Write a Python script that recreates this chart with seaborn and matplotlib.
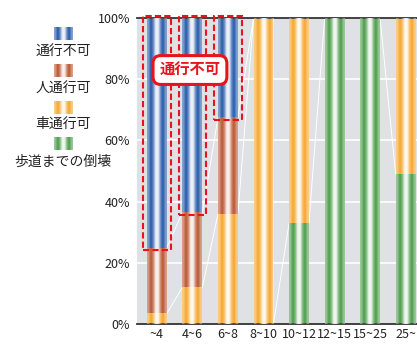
import numpy as np
import pandas as pd
import matplotlib.pyplot as plt
import seaborn as sns
from matplotlib.patches import Rectangle

plt.rcParams['font.family'] = ['Noto Sans CJK JP', 'DejaVu Sans']

# data (percent of buildings per class)
categories = ["~4", "4~6", "6~8", "8~10", "10~12", "12~15", "15~25", "25~"]
collapse = [0, 0, 0, 0, 33, 100, 100, 49]          # 歩道までの倒壊
car_ok = [3.5, 12, 36, 100, 67, 0, 0, 51]          # 車通行可
walk_ok = [21.5, 24.5, 31.5, 0, 0, 0, 0, 0]        # 人通行可
blocked = [75, 63.5, 32.5, 0, 0, 0, 0, 0]          # 通行不可

series_names = ["歩道までの倒壊", "車通行可", "人通行可", "通行不可"]
colors = ["#4c9c4a", "#f6a62c", "#b9552f", "#2459aa"]
series = [collapse, car_ok, walk_ok, blocked]

cum = np.cumsum(np.array(series), axis=0)
bar_w = 0.56

fig = plt.figure(figsize=(4.17, 3.47), dpi=100)
ax = fig.add_axes([137 / 417, 23 / 347, 1 - 137 / 417, (324 - 18) / 347])
ax.set_facecolor("#dfe1e5")

# white profile that gives the bars their striped look
xs = np.linspace(0, 1, 120)
prof = np.interp(xs, [0, 0.07, 0.2, 0.33, 0.42, 0.5, 0.58, 0.67, 0.8, 0.93, 1],
                 [0.45, 0.4, 0.0, 0.35, 0.85, 0.95, 0.85, 0.35, 0.0, 0.4, 0.45])
grad = np.zeros((1, len(xs), 4))
grad[..., :3] = 1
grad[..., 3] = prof

# draw from the top series down so each one covers the next
for k in range(3, -1, -1):
    df = pd.DataFrame({"cat": categories, "val": cum[k]})
    sns.barplot(data=df, x="cat", y="val", order=categories, color=colors[k],
                width=bar_w, saturation=1, ax=ax, zorder=2)

for i in range(len(categories)):
    ax.imshow(grad, extent=(i - bar_w / 2, i + bar_w / 2, 0, 100),
              aspect="auto", interpolation="bilinear", zorder=3)

# white series lines between bars
for k in range(3):
    for i in range(len(categories) - 1):
        ax.plot([i + bar_w / 2, i + 1 - bar_w / 2], [cum[k][i], cum[k][i + 1]],
                color="white", lw=0.7, zorder=1.5)

for y in [20, 40, 60, 80]:
    ax.axhline(y, color="white", lw=1.2, zorder=1)

ax.set_xlim(-0.56, 7.32)
ax.set_ylim(0, 100)
ax.set_yticks([0, 20, 40, 60, 80, 100])
ax.set_yticklabels([f"{v}%" for v in [0, 20, 40, 60, 80, 100]])
ax.set_xlabel("")
ax.set_ylabel("")
ax.tick_params(axis="both", length=0, labelsize=9, colors="#222222")
ax.tick_params(axis="y", pad=5)
ax.tick_params(axis="x", pad=3)
for s in ["left", "right"]:
    ax.spines[s].set_visible(False)
for s in ["top", "bottom"]:
    ax.spines[s].set_color("#333333")
    ax.spines[s].set_linewidth(1.3)

# red dashed boxes around 通行不可
for i in range(3):
    lo = cum[2][i] - 0.8
    r = Rectangle((i - 0.39, lo), 0.78, 100.8 - lo, fill=False, ec="#e8141b",
                  lw=1.5, ls=(0, (3, 1.5)), zorder=4, clip_on=False)
    ax.add_patch(r)

ax.text(0.93, 83, "通行不可", color="#e8141b", fontsize=11, fontweight="bold",
        ha="center", va="center", zorder=6,
        bbox=dict(boxstyle="round,pad=0.42,rounding_size=0.5", fc="white",
                  ec="#e8141b", lw=2.2))

# legend on the left: small striped icons above the labels
icon_y = [33, 70, 107, 143]
label_y = [52, 89, 124, 162]
for j, k in enumerate([3, 2, 1, 0]):
    iax = fig.add_axes([54 / 417, 1 - (icon_y[j] + 7) / 347, 19 / 417, 13 / 347])
    iax.bar([0], [1], width=1, color=colors[k], zorder=1)
    iax.imshow(grad, extent=(-0.5, 0.5, 0, 1), aspect="auto",
               interpolation="bilinear", zorder=2)
    iax.set_xlim(-0.5, 0.5)
    iax.set_ylim(0, 1)
    iax.axis("off")
    fig.text(63 / 417, 1 - label_y[j] / 347, series_names[k], fontsize=10,
             ha="center", va="center", color="#222222")

plt.savefig("out.png", dpi=100)
